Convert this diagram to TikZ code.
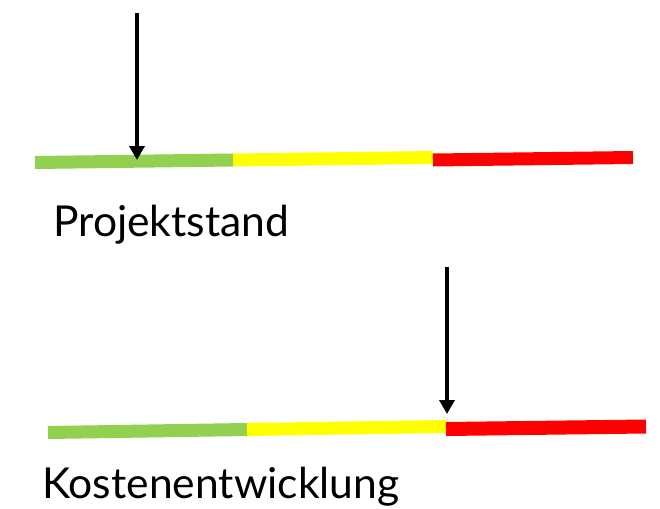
\documentclass[tikz,border=0pt]{standalone}
\usepackage{fontspec}
\setmainfont{Lato}
\usetikzlibrary{arrows.meta}
\definecolor{barGreen}{HTML}{92D050}
\definecolor{barYellow}{HTML}{FFFF00}
\definecolor{barRed}{HTML}{FF0000}
\tikzset{
  barseg/.style={line width=13pt},
  pointer/.style={line width=3.8pt,-{Triangle[width=15pt,length=14pt]}},
  lbl/.style={anchor=base west,inner sep=0pt,font=\fontsize{42.6}{50}\selectfont}
}
\begin{document}
\begin{tikzpicture}[x=1pt,y=-1pt]
\useasboundingbox (0,0) rectangle (660,508);
% top bar
\coordinate (g1a) at (35,162.5); \coordinate (g1b) at (233,160);
\coordinate (y1a) at (233,160); \coordinate (y1b) at (433,157.5);
\coordinate (r1a) at (433,160); \coordinate (r1b) at (633,157.5);
\draw[barseg,barGreen] (g1a) -- (g1b);
\draw[barseg,barYellow] (y1a) -- (y1b);
\draw[barseg,barRed] (r1a) -- (r1b);
\coordinate (a1s) at (137,13); \coordinate (a1e) at (137,160);
\draw[pointer] (a1s) -- (a1e);
\node[lbl] (t1) at (53,236) {Projektstand};
% bottom bar
\coordinate (g2a) at (48,432.5); \coordinate (g2b) at (247,429.5);
\coordinate (y2a) at (247,429.5); \coordinate (y2b) at (446,426.5);
\coordinate (r2a) at (446,429); \coordinate (r2b) at (646,426.5);
\draw[barseg,barGreen] (g2a) -- (g2b);
\draw[barseg,barYellow] (y2a) -- (y2b);
\draw[barseg,barRed,line width=14pt] (r2a) -- (r2b);
\coordinate (a2s) at (447,267); \coordinate (a2e) at (447,414);
\draw[pointer] (a2s) -- (a2e);
\node[lbl] (t2) at (42,498) {Kostenentwicklung};
\end{tikzpicture}
\end{document}
